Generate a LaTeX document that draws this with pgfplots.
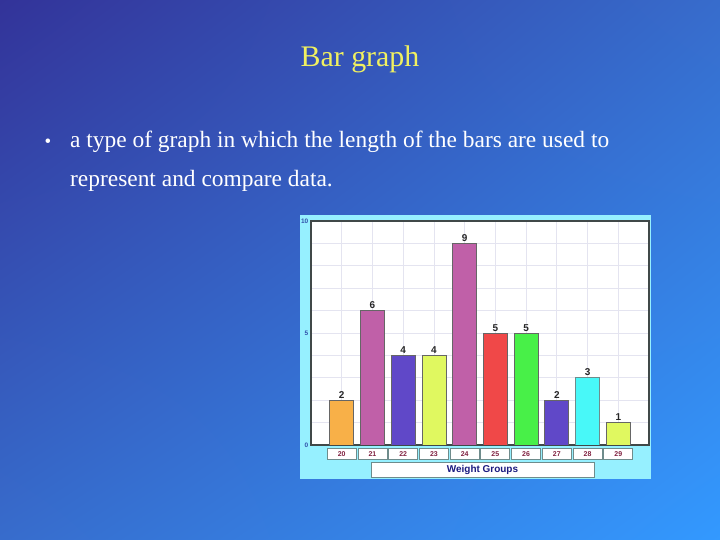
\documentclass[border=0pt]{standalone}
\usepackage{fontspec}
\setmainfont{Liberation Serif}
\newfontfamily\chartfont{Liberation Sans}
\usepackage{pgfplots}
\pgfplotsset{compat=1.18}
\usetikzlibrary{shadings}

% slide colours
\definecolor{bgA}{RGB}{51,51,153}
\definecolor{bgM}{RGB}{55,108,204}
\definecolor{bgB}{RGB}{51,153,255}
\definecolor{titleyellow}{RGB}{240,240,96}
\definecolor{framecyan}{RGB}{150,240,255}
\definecolor{axisgrey}{RGB}{64,72,72}
\definecolor{gridgrey}{RGB}{228,228,240}
\definecolor{boxgrey}{RGB}{110,140,140}
\definecolor{ticklab}{RGB}{128,32,64}
\definecolor{ylab}{RGB}{48,80,170}
\definecolor{navy}{RGB}{26,26,128}
% bar colours
\definecolor{cOrange}{RGB}{248,176,72}
\definecolor{cMagenta}{RGB}{192,96,168}
\definecolor{cIndigo}{RGB}{96,72,200}
\definecolor{cLime}{RGB}{224,248,96}
\definecolor{cRed}{RGB}{240,72,72}
\definecolor{cGreen}{RGB}{72,240,72}
\definecolor{cCyan}{RGB}{72,248,248}

\begin{document}
\begin{tikzpicture}
\useasboundingbox (0,0) rectangle (720bp,540bp);
\shade[upper left=bgA, upper right=bgM, lower left=bgM, lower right=bgB]
  (0,0) rectangle (720bp,540bp);

\node[anchor=base, text=titleyellow, font=\fontsize{30}{36}\selectfont]
  at (360bp,473bp) {Bar graph};
\node[anchor=base west, text=white, font=\fontsize{19}{24}\selectfont]
  at (41bp,392bp) {\textbullet};
\node[anchor=base west, text=white, font=\fontsize{23.5}{28}\selectfont, inner sep=0pt]
  at (70bp,392bp) {a type of graph in which the length of the bars are used to};
\node[anchor=base west, text=white, font=\fontsize{23.5}{28}\selectfont, inner sep=0pt]
  at (70bp,353bp) {represent and compare data.};

% picture frame of the chart
\fill[framecyan] (300bp,61bp) rectangle (651bp,325bp);

\begin{axis}[
  at={(311bp,95bp)}, anchor=south west,
  scale only axis, width=338bp, height=224bp,
  xmin=-1, xmax=10, ymin=0, ymax=10,
  ybar, bar width=24bp, bar shift=0pt,
  xtick={0,1,2,3,4,5,6,7,8,9},
  xticklabels={20,21,22,23,24,25,26,27,28,29},
  ytick={0,5,10}, minor ytick={1,2,3,4,6,7,8,9},
  xmajorgrids, ymajorgrids, yminorgrids,
  grid style={draw=gridgrey, line width=0.8bp},
  minor grid style={draw=gridgrey, line width=0.8bp},
  axis background/.style={fill=white},
  axis line style={draw=axisgrey, line width=1.3bp},
  major tick length=0pt, minor tick length=0pt,
  /pgf/number format/assume math mode=true,
  xticklabel style={draw=boxgrey, line width=0.9bp, fill=white,
    minimum width=29bp, minimum height=11.5bp, inner sep=0pt,
    text=ticklab, font=\chartfont\bfseries\fontsize{7}{8}\selectfont,
    anchor=north, yshift=-3bp},
  yticklabel style={text=ylab, font=\chartfont\bfseries\fontsize{6.5}{7}\selectfont,
    inner sep=1bp, xshift=-1.5bp},
  nodes near coords,
  nodes near coords style={font=\chartfont\bfseries\fontsize{10}{11}\selectfont,
    text=black!85, inner sep=1.5bp},
  every axis plot/.append style={draw=black!60, line width=0.8bp},
]
\addplot[fill=cOrange]  coordinates {(0,2)};
\addplot[fill=cMagenta] coordinates {(1,6)};
\addplot[fill=cIndigo]  coordinates {(2,4)};
\addplot[fill=cLime]    coordinates {(3,4)};
\addplot[fill=cMagenta] coordinates {(4,9)};
\addplot[fill=cRed]     coordinates {(5,5)};
\addplot[fill=cGreen]   coordinates {(6,5)};
\addplot[fill=cIndigo]  coordinates {(7,2)};
\addplot[fill=cCyan, draw=boxgrey] coordinates {(8,3)};
\addplot[fill=cLime]    coordinates {(9,1)};
\end{axis}

\node[draw=boxgrey, line width=0.9bp, fill=white, minimum width=223bp,
  minimum height=15bp, inner sep=0pt, text=navy,
  font=\chartfont\bfseries\fontsize{10}{11}\selectfont]
  at (482.5bp,70.5bp) {Weight Groups};
\end{tikzpicture}
\end{document}
